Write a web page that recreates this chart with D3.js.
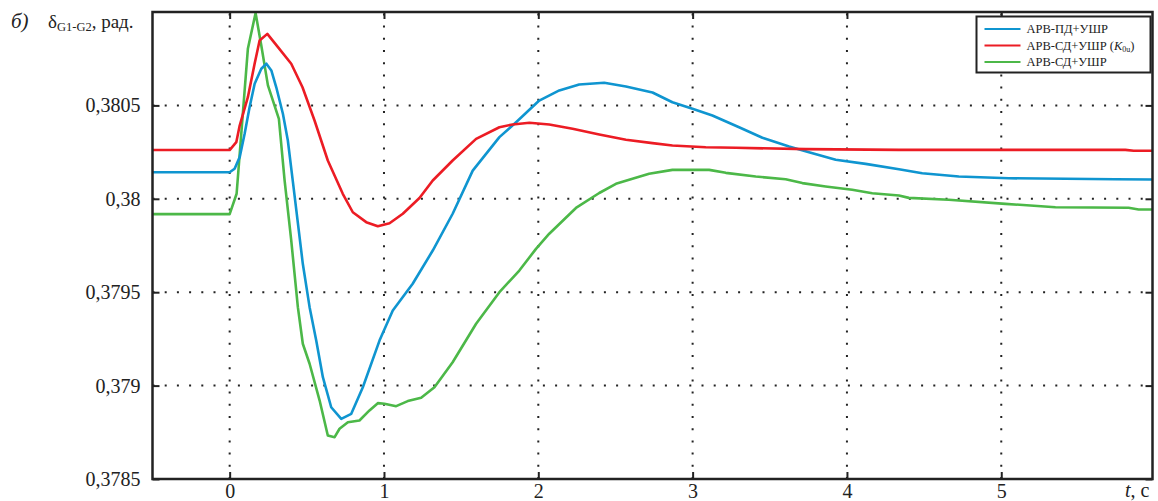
<!DOCTYPE html>
<html>
<head>
<meta charset="utf-8">
<script src="https://cdn.jsdelivr.net/npm/d3@7"></script>
<style>
    body { margin: 0; background: #fff; }
    #chart-area { width: 1158px; height: 501px; }
    text { font-family: "Liberation Serif", "Times New Roman", serif; fill: #222; }
</style>
</head>
<body>
<div id="chart-area"></div>
<script>

// ---- data ----
const seriesNames = ["АРВ-ПД+УШР", "АРВ-СД+УШР", "АРВ-СД+УШР"];
const seriesColors = ["#0f95d0", "#ec1c24", "#4cb848"];

const tBlue = [-0.5, 0, 0.032, 0.065, 0.097, 0.129, 0.162, 0.205, 0.238, 0.270, 0.302, 0.345, 0.377, 0.410,
    0.474, 0.518, 0.561, 0.604, 0.658, 0.723, 0.788, 0.863, 0.971, 1.057, 1.186, 1.316, 1.445, 1.575, 1.748,
    1.856, 2.006, 2.136, 2.265, 2.427, 2.568, 2.740, 2.869, 2.999, 3.128, 3.301, 3.452, 3.625, 3.754, 3.927,
    4.121, 4.337, 4.488, 4.725, 5.049, 5.739, 5.98];
const yBlue = [0.380142, 0.380142, 0.380161, 0.380223, 0.380348, 0.38049, 0.380616, 0.380696, 0.380723, 0.380687,
    0.380597, 0.380455, 0.380312, 0.380089, 0.379652, 0.37942, 0.379241, 0.379045, 0.378884, 0.378822, 0.378849,
    0.378991, 0.379241, 0.379402, 0.379545, 0.379723, 0.37992, 0.380151, 0.38033, 0.38041, 0.380526, 0.38058,
    0.380612, 0.380621, 0.380601, 0.380569, 0.380517, 0.380482, 0.380446, 0.380383, 0.380327, 0.38028, 0.380249,
    0.380209, 0.380187, 0.380158, 0.380137, 0.380119, 0.38011, 0.380105, 0.380103];

const tRed = [-0.5, 0, 0.043, 0.065, 0.118, 0.162, 0.194, 0.244, 0.313, 0.399, 0.472, 0.550, 0.636, 0.733,
    0.798, 0.885, 0.960, 1.036, 1.122, 1.230, 1.316, 1.445, 1.597, 1.748, 1.834, 1.942, 2.071, 2.222, 2.395,
    2.568, 2.740, 2.869, 3.085, 3.280, 3.733, 4.337, 5.804, 5.858, 5.98];
const yRed = [0.380261, 0.380261, 0.380303, 0.380392, 0.380544, 0.380724, 0.380847, 0.380883, 0.380812, 0.380723,
    0.380597, 0.380419, 0.380205, 0.380027, 0.379928, 0.379875, 0.379853, 0.379869, 0.37992, 0.380004, 0.380098,
    0.380205, 0.380321, 0.380383, 0.380398, 0.380407, 0.380398, 0.380375, 0.380344, 0.380316, 0.380298, 0.380285,
    0.380276, 0.380273, 0.380266, 0.380262, 0.380262, 0.380257, 0.380257];

const tGreen = [-0.5, 0, 0.045, 0.118, 0.168, 0.205, 0.248, 0.319, 0.356, 0.399, 0.442, 0.474, 0.518, 0.583,
    0.636, 0.680, 0.712, 0.766, 0.841, 0.906, 0.960, 1.003, 1.079, 1.154, 1.241, 1.327, 1.445, 1.597, 1.748,
    1.877, 1.985, 2.071, 2.244, 2.395, 2.503, 2.610, 2.718, 2.869, 3.107, 3.215, 3.409, 3.603, 3.711, 3.862,
    4.034, 4.164, 4.337, 4.401, 4.660, 5.027, 5.351, 5.825, 5.890, 5.98];
const yGreen = [0.379918, 0.379918, 0.380027, 0.380803, 0.380995, 0.380821, 0.380607, 0.380428, 0.380098, 0.379777,
    0.37942, 0.379224, 0.379117, 0.37892, 0.378733, 0.378724, 0.378769, 0.378804, 0.378813, 0.378867, 0.378906,
    0.378903, 0.37889, 0.378917, 0.378935, 0.378991, 0.379125, 0.379331, 0.3795, 0.379616, 0.379732, 0.379813,
    0.379951, 0.380031, 0.38008, 0.380107, 0.380134, 0.380155, 0.380155, 0.380139, 0.380119, 0.380105, 0.380084,
    0.380066, 0.380048, 0.38003, 0.380018, 0.380005, 0.379995, 0.379973, 0.379955, 0.379952, 0.379943, 0.379943];

const xTicks = [0, 1, 2, 3, 4, 5];
const yTicks = [0.3785, 0.379, 0.3795, 0.38, 0.3805];
const yTickLabels = ["0,3785", "0,379", "0,3795", "0,38", "0,3805"];
const xDomain = [-0.5, 5.98];
const yDomain = [0.3785, 0.381];


let vis = {};

vis.margin = {top: 12, right: 5.5, bottom: 22, left: 152.5};
vis.width = 1158 - vis.margin.left - vis.margin.right;
vis.height = 501 - vis.margin.top - vis.margin.bottom;

vis.root = d3.select("#chart-area").append("svg")
            .attr("width", 1158)
            .attr("height", 501);

vis.svg = vis.root.append("g")
            .attr("transform", "translate(" + vis.margin.left + "," + vis.margin.top + ")");

vis.x = d3.scaleLinear().domain(xDomain).range([0, vis.width]);
vis.y = d3.scaleLinear().domain(yDomain).range([vis.height, 0]);

// dotted grid
vis.grid = vis.svg.append("g").attr("class", "grid");

vis.grid.selectAll("line.gx")
    .data(xTicks)
    .enter().append("line")
    .attr("class", "gx")
    .attr("x1", d => vis.x(d)).attr("x2", d => vis.x(d))
    .attr("y1", vis.height).attr("y2", 0);

vis.grid.selectAll("line.gy")
    .data(yTicks.filter(d => d > yDomain[0]))
    .enter().append("line")
    .attr("class", "gy")
    .attr("x1", 0).attr("x2", vis.width)
    .attr("y1", d => vis.y(d)).attr("y2", d => vis.y(d));

vis.grid.selectAll("line")
    .attr("stroke", "#222")
    .attr("stroke-width", 2)
    .attr("stroke-dasharray", "2,10.2");

// inward tick marks on all four sides
let tickLen = 7;
vis.xAxisBottom = d3.axisBottom(vis.x).tickValues(xTicks).tickSizeInner(-tickLen).tickSizeOuter(0).tickFormat(d3.format("d")).tickPadding(4.5);
vis.xAxisTop = d3.axisTop(vis.x).tickValues(xTicks).tickSizeInner(-tickLen).tickSizeOuter(0).tickFormat("");
vis.yAxisLeft = d3.axisLeft(vis.y).tickValues(yTicks).tickSizeInner(-tickLen).tickSizeOuter(0)
    .tickFormat((d, i) => yTickLabels[i]).tickPadding(12);
vis.yAxisRight = d3.axisRight(vis.y).tickValues(yTicks).tickSizeInner(-tickLen).tickSizeOuter(0).tickFormat("");

vis.svg.append("g").attr("class", "axis").attr("transform", `translate(0, ${vis.height})`).call(vis.xAxisBottom);
vis.svg.append("g").attr("class", "axis").call(vis.xAxisTop);
vis.svg.append("g").attr("class", "axis").call(vis.yAxisLeft);
vis.svg.append("g").attr("class", "axis").attr("transform", `translate(${vis.width}, 0)`).call(vis.yAxisRight);

vis.svg.selectAll(".axis path").remove();
vis.svg.selectAll(".axis line").attr("stroke", "#222").attr("stroke-width", 2);
vis.svg.selectAll(".axis text")
    .style("font-family", '"Liberation Serif", serif')
    .style("font-size", "20px")
    .attr("fill", "#222");

// lines
let series = [
    {name: seriesNames[0], color: seriesColors[0], values: tBlue.map((t, i) => [t, yBlue[i]])},
    {name: seriesNames[1], color: seriesColors[1], values: tRed.map((t, i) => [t, yRed[i]])},
    {name: seriesNames[2], color: seriesColors[2], values: tGreen.map((t, i) => [t, yGreen[i]])}
];

vis.line = d3.line()
    .x(d => vis.x(d[0]))
    .y(d => vis.y(d[1]));

vis.svg.append("clipPath").attr("id", "clip")
    .append("rect").attr("width", vis.width).attr("height", vis.height);

vis.svg.append("g").attr("clip-path", "url(#clip)")
    .selectAll(".curve")
    .data([series[2], series[0], series[1]])
    .enter().append("path")
    .attr("class", "curve")
    .attr("d", d => vis.line(d.values))
    .attr("fill", "none")
    .attr("stroke", d => d.color)
    .attr("stroke-width", 2.6)
    .attr("stroke-linejoin", "round");

// frame
vis.svg.append("rect")
    .attr("width", vis.width)
    .attr("height", vis.height)
    .attr("fill", "none")
    .attr("stroke", "#222")
    .attr("stroke-width", 2.5);

// legend
vis.legend = vis.svg.append("g")
    .attr("transform", `translate(${vis.width - 176}, 4.5)`);

vis.legend.append("rect")
    .attr("width", 174)
    .attr("height", 56)
    .attr("fill", "#fff")
    .attr("stroke", "#222")
    .attr("stroke-width", 2);

let rows = vis.legend.selectAll(".legend-row")
    .data(series)
    .enter().append("g")
    .attr("class", "legend-row")
    .attr("transform", (d, i) => `translate(0, ${12.5 + i * 16.5})`);

rows.append("line")
    .attr("x1", 8).attr("x2", 44)
    .attr("stroke", d => d.color)
    .attr("stroke-width", 2.2);

let rowText = rows.append("text")
    .attr("x", 50)
    .attr("y", 4.3)
    .style("font-size", "12.5px")
    .text(d => d.name);

// (K0u) tag on the second entry
let k = d3.select(rowText.nodes()[1]);
k.append("tspan").text(" (");
k.append("tspan").style("font-style", "italic").text("K");
k.append("tspan").attr("dy", 2.5).style("font-size", "8px").text("0u");
k.append("tspan").attr("dy", -2.5).text(")");

// titles
vis.root.append("text")
    .attr("x", 11)
    .attr("y", 28)
    .style("font-size", "21px")
    .style("font-style", "italic")
    .text("б)");

let yl = vis.root.append("text")
    .attr("x", 48)
    .attr("y", 28)
    .style("font-size", "19px");
yl.append("tspan").text("δ");
yl.append("tspan").attr("dy", 3).style("font-size", "12.5px").text("G1-G2");
yl.append("tspan").attr("dy", -3).text(", рад.");

let xl = vis.root.append("text")
    .attr("x", 1125)
    .attr("y", 497)
    .style("font-size", "20px");
xl.append("tspan").style("font-style", "italic").text("t");
xl.append("tspan").text(", c");

</script>
</body>
</html>
